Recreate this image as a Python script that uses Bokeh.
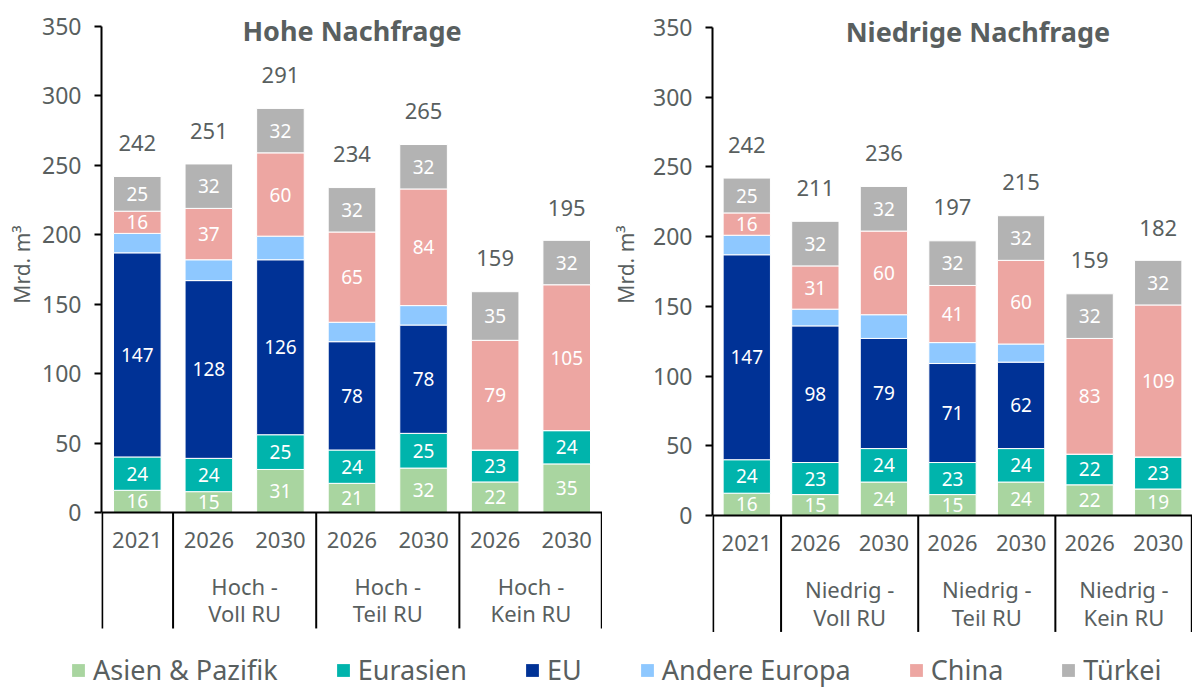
from bokeh.plotting import figure
from bokeh.models import ColumnDataSource, FactorRange, Range1d, FixedTicker, Span, Legend, LegendItem
from bokeh.layouts import column, row
from bokeh.core.properties import value
from bokeh.embed import file_html
from bokeh.resources import INLINE
import math

# ---------------- data ----------------
series = ["Asien & Pazifik", "Eurasien", "EU", "Andere Europa", "China", "Türkei"]
colors = ["#A9D5A0", "#00B4AC", "#003296", "#8EC8FF", "#EDA6A2", "#B3B3B3"]
labelled = [True, True, True, False, True, True]

years = ["2021", "2026", "2030", "2026", "2030", "2026", "2030"]
groups_hoch = ["Basis", "Hoch - Voll RU", "Hoch - Voll RU", "Hoch - Teil RU", "Hoch - Teil RU",
               "Hoch - Kein RU", "Hoch - Kein RU"]
groups_nied = ["Basis", "Niedrig - Voll RU", "Niedrig - Voll RU", "Niedrig - Teil RU", "Niedrig - Teil RU",
               "Niedrig - Kein RU", "Niedrig - Kein RU"]

asien_hoch = [16, 15, 31, 21, 32, 22, 35]
eurasien_hoch = [24, 24, 25, 24, 25, 23, 24]
eu_hoch = [147, 128, 126, 78, 78, 0, 0]
andere_hoch = [14, 15, 17, 14, 14, 0, 0]
china_hoch = [16, 37, 60, 65, 84, 79, 105]
tuerkei_hoch = [25, 32, 32, 32, 32, 35, 32]
total_hoch = [242, 251, 291, 234, 265, 159, 195]

asien_nied = [16, 15, 24, 15, 24, 22, 19]
eurasien_nied = [24, 23, 24, 23, 24, 22, 23]
eu_nied = [147, 98, 79, 71, 62, 0, 0]
andere_nied = [14, 12, 17, 15, 13, 0, 0]
china_nied = [16, 31, 60, 41, 60, 83, 109]
tuerkei_nied = [25, 32, 32, 32, 32, 32, 32]
total_nied = [242, 211, 236, 197, 215, 159, 182]

y_ticks = [0, 50, 100, 150, 200, 250, 300, 350]
y_title = "Mrd. m³"

# ---------------- style ----------------
FONT = "Noto Sans"
GRAY = "#595F5F"
H = 632


def make_panel(title, groups, values, totals, width, border_left, bar_width,
               y_start, y_end, title_offset):
    factors = list(zip(groups, years))
    xr = FactorRange(*factors, group_padding=0, factor_padding=0, subgroup_padding=0)
    p = figure(x_range=xr, y_range=Range1d(y_start, y_end), width=width, height=H,
               output_backend="svg", toolbar_location=None, x_axis_location=None,
               min_border_left=border_left, min_border_right=0, min_border_top=0,
               min_border_bottom=0, outline_line_color=None)
    p.grid.visible = False
    p.background_fill_color = "white"

    data = {"x": factors}
    for s, v in zip(series, values):
        data[s] = v
    src = ColumnDataSource(data)
    p.vbar_stack(series, x="x", width=bar_width, color=colors, line_color="white",
                 line_width=1, source=src)

    # segment value labels
    lx, ly, lt = [], [], []
    base = [0] * len(factors)
    for s, v, lab in zip(series, values, labelled):
        for i, val in enumerate(v):
            if lab and val > 0:
                lx.append(factors[i])
                ly.append(base[i] + val / 2)
                lt.append(str(val))
            base[i] += val
    p.text(x=lx, y=ly, text=lt, text_color="white", text_font=value(FONT),
           text_font_size=value("19px"), text_align="center", text_baseline="middle")

    # totals
    p.text(x=factors, y=[t + 24 for t in totals], text=[str(t) for t in totals],
           text_color=GRAY, text_font=value(FONT), text_font_size=value("22px"),
           text_align="center", text_baseline="middle")

    # title
    p.text(x=[(groups[3], years[3], title_offset)], y=[347], text=[title], text_color=GRAY,
           text_font=value(FONT), text_font_size=value("27px"), text_font_style="bold",
           text_align="center", text_baseline="middle")

    # x-axis line
    p.add_layout(Span(location=0, dimension="width", line_color="black", line_width=2))

    # category labels
    p.text(x=factors, y=[-20] * len(factors), text=years, text_color=GRAY,
           text_font=value(FONT), text_font_size=value("22px"), text_align="center",
           text_baseline="middle")
    ug = [g for i, g in enumerate(groups) if g != "Basis" and g not in groups[:i]]
    gx = [(g, years[groups.index(g) + 1], -0.5) for g in ug]
    p.text(x=gx, y=[-53] * len(ug), text=[g.split(" - ")[0] + " -" for g in ug],
           text_color=GRAY, text_font=value(FONT), text_font_size=value("22px"),
           text_align="center", text_baseline="middle")
    p.text(x=gx, y=[-72.5] * len(ug), text=[g.split(" - ")[1] for g in ug],
           text_color=GRAY, text_font=value(FONT), text_font_size=value("22px"),
           text_align="center", text_baseline="middle")

    # separators
    sx = [(groups[0], years[0], -0.49)]
    sx += [(g, years[groups.index(g)], -0.5) for g in ug]
    sx += [(groups[-1], years[-1], 0.49)]
    p.segment(x0=sx, x1=sx, y0=[0] * len(sx), y1=[-83.5] * len(sx), line_color="black",
              line_width=2)

    # y axis
    ax = p.yaxis[0]
    ax.ticker = FixedTicker(ticks=y_ticks)
    ax.bounds = (0, 350)
    ax.axis_line_color = "black"
    ax.axis_line_width = 2
    ax.major_tick_line_color = "black"
    ax.major_tick_line_width = 2
    ax.major_tick_out = 7
    ax.major_tick_in = 0
    ax.minor_tick_line_color = None
    ax.major_label_text_font = FONT
    ax.major_label_text_font_size = "23px"
    ax.major_label_text_color = GRAY
    ax.major_label_standoff = 13
    return p


def make_ylabel(width, xc, yc):
    q = figure(width=width, height=H, output_backend="svg", toolbar_location=None,
               x_axis_location=None, y_axis_location=None, x_range=Range1d(0, width),
               y_range=Range1d(0, H), min_border=0, outline_line_color=None)
    q.grid.visible = False
    q.text(x=[xc], y=[H - yc], text=[y_title], angle=math.pi / 2, text_color=GRAY,
           text_font=value(FONT), text_font_size=value("21px"), text_align="center",
           text_baseline="middle")
    return q


lab1 = make_ylabel(36, 21.5, 264)
p1 = make_panel("Hohe Nachfrage", groups_hoch,
                [asien_hoch, eurasien_hoch, eu_hoch, andere_hoch, china_hoch, tuerkei_hoch],
                total_hoch, 566, 65, 0.665, -120 / 1.3886, 512 / 1.3886, 0.0)
lab2 = make_ylabel(43, 23, 264)
p2 = make_panel("Niedrige Nachfrage", groups_nied,
                [asien_nied, eurasien_nied, eu_nied, andere_nied, china_nied, tuerkei_nied],
                total_nied, 547, 67, 0.69, -117 / 1.3943, 515 / 1.3943, 0.37)

# legend figure
pl = figure(width=1192, height=55, output_backend="svg", toolbar_location=None,
            x_axis_location=None, y_axis_location=None, x_range=Range1d(0, 1),
            y_range=Range1d(0, 1), min_border=0, outline_line_color=None)
pl.grid.visible = False
items = []
for s, c in zip(series, colors):
    r = pl.vbar(x=[-5], top=[-5], width=0.1, color=c, line_color=None)
    items.append(LegendItem(label=s, renderers=[r]))
leg = Legend(items=items, orientation="horizontal", location=(70, -1), glyph_width=16,
             glyph_height=16, label_standoff=7, spacing=57, padding=0, margin=0,
             border_line_color=None, background_fill_alpha=0,
             label_text_font=FONT, label_text_font_size="27px", label_text_color=GRAY)
pl.add_layout(leg)

layout = column(row(lab1, p1, lab2, p2, spacing=0), pl, spacing=0)
open("out.html", "w").write(file_html(layout, INLINE))
